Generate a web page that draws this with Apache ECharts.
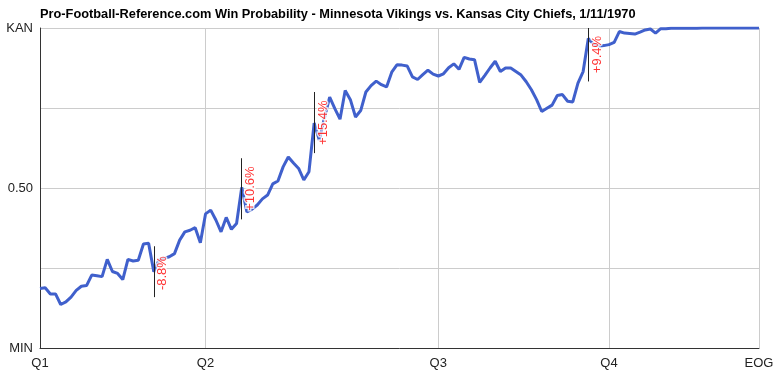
<!DOCTYPE html>
<html>
<head>
<meta charset="utf-8">
<script src="https://cdn.jsdelivr.net/npm/echarts@6/dist/echarts.min.js"></script>
<style>
html,body{margin:0;padding:0;background:#fff;}
#chart{width:778px;height:376px;}
</style>
</head>
<body>
<div id="chart"></div>
<script>
// Play index (x categories)
const plays = [];
for (let i = 0; i < 140; i++) plays.push(i);

// Win probability for Kansas City (0 = MIN, 1 = KAN)
const winProb = [
  0.186,0.188,0.169,0.169,0.136,0.144,0.159,0.180,0.193,0.195,
  0.228,0.226,0.223,0.277,0.239,0.233,0.214,0.277,0.272,0.274,
  0.325,0.327,0.238,0.275,0.280,0.285,0.295,0.337,0.363,0.368,
  0.376,0.329,0.419,0.431,0.400,0.363,0.408,0.371,0.389,0.502,
  0.425,0.434,0.447,0.466,0.478,0.513,0.522,0.566,0.597,0.578,
  0.561,0.525,0.551,0.703,0.650,0.720,0.784,0.748,0.715,0.805,
  0.776,0.722,0.742,0.800,0.820,0.834,0.823,0.816,0.862,0.885,
  0.884,0.881,0.847,0.839,0.854,0.868,0.856,0.850,0.857,0.876,
  0.888,0.871,0.908,0.903,0.901,0.830,0.852,0.875,0.896,0.864,
  0.875,0.875,0.864,0.853,0.832,0.807,0.776,0.739,0.749,0.759,
  0.789,0.792,0.771,0.769,0.828,0.864,0.967,0.950,0.943,0.945,
  0.948,0.955,0.989,0.984,0.983,0.981,0.987,0.994,0.997,0.984,
  0.998,0.998,0.999,0.999,0.999,0.999,0.999,0.999,1.000,1.000,
  1.000,1.000,1.000,1.000,1.000,1.000,1.000,1.000,1.000,1.000
];

// Quarter tick positions (play index) and labels
const quarterIdx = [0, 32, 77, 110, 139];
const quarterLabels = ['Q1', 'Q2', 'Q3', 'Q4', 'EOG'];

// Y tick labels
const yTickValues = [0, 0.5, 1];
const yTickLabels = ['MIN', '0.50', 'KAN'];

// Big-play annotations
const annIdx = [22, 39, 53, 106];
const annText = ['-8.8%', '+10.6%', '+15.4%', '+9.4%'];
const annTop = [0.318, 0.593, 0.800, 1.000];
const annBottom = [0.159, 0.402, 0.609, 0.833];
const annMid = [0.234, 0.498, 0.704, 0.917];

const FONT = 'Arial, "Liberation Sans", sans-serif';

const chart = echarts.init(document.getElementById('chart'), null, {renderer: 'canvas'});

const markLines = annIdx.map((idx, k) => [
  {coord: [idx, annTop[k]]},
  {coord: [idx, annBottom[k]]}
]);

const option = {
  animation: false,
  backgroundColor: '#fff',
  title: {
    text: 'Pro-Football-Reference.com Win Probability - Minnesota Vikings vs. Kansas City Chiefs, 1/11/1970',
    left: 35,
    top: 3,
    textStyle: {fontFamily: FONT, fontSize: 12.8, fontWeight: 'bold', color: '#000'}
  },
  grid: {left: 40, right: 19, top: 28, bottom: 28, containLabel: false},
  xAxis: {
    type: 'category',
    data: plays,
    boundaryGap: false,
    axisLine: {show: true, lineStyle: {color: '#333', width: 1}},
    axisTick: {show: false},
    axisLabel: {
      interval: (i) => quarterIdx.indexOf(i) >= 0,
      formatter: (v, i) => {
        const k = quarterIdx.indexOf(i);
        return k >= 0 ? quarterLabels[k] : '';
      },
      color: '#222', fontSize: 13, fontFamily: FONT, margin: 9
    },
    splitLine: {
      show: true,
      interval: (i) => quarterIdx.indexOf(i) > 0,
      lineStyle: {color: '#cccccc', width: 1}
    }
  },
  yAxis: {
    type: 'value',
    min: 0, max: 1, interval: 0.25,
    axisLine: {show: true, lineStyle: {color: '#333', width: 1}},
    axisTick: {show: false},
    axisLabel: {
      formatter: (v) => {
        const k = yTickValues.findIndex(t => Math.abs(t - v) < 1e-9);
        return k >= 0 ? yTickLabels[k] : '';
      },
      color: '#222', fontSize: 13, fontFamily: FONT, margin: 7
    },
    splitLine: {show: true, lineStyle: {color: '#cccccc', width: 1}}
  },
  series: [
    {
      type: 'line',
      data: winProb,
      showSymbol: false,
      symbol: 'none',
      lineStyle: {color: '#4060cc', width: 3},
      z: 2,
      silent: true
    },
    {
      type: 'scatter',
      data: annIdx.map((idx, k) => [idx, annMid[k]]),
      symbol: 'circle',
      symbolSize: 1,
      itemStyle: {color: 'rgba(0,0,0,0)'},
      z: 4,
      silent: true,
      markLine: {
        silent: true,
        symbol: ['none', 'none'],
        label: {show: false},
        lineStyle: {color: '#222', width: 1, type: 'solid'},
        data: markLines,
        z: 3
      },
      label: {
        show: true,
        position: 'inside',
        rotate: 90,
        offset: [0, 9],
        formatter: (p) => annText[p.dataIndex],
        color: '#ff0000',
        fontSize: 13,
        fontFamily: FONT,
        textBorderColor: '#fff',
        textBorderWidth: 3
      }
    }
  ]
};

chart.setOption(option);
</script>
</body>
</html>
